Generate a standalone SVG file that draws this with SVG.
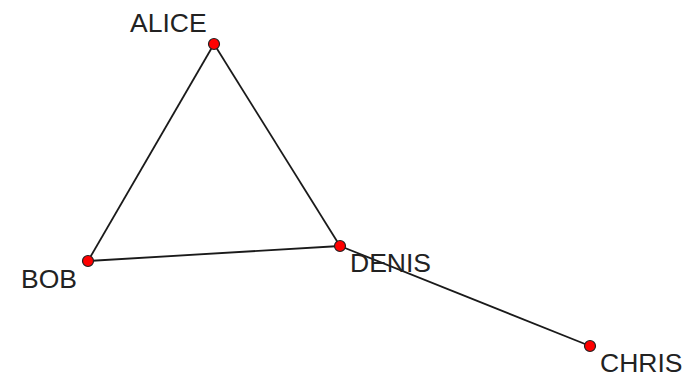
<svg xmlns="http://www.w3.org/2000/svg" width="699" height="377" viewBox="0 0 699 377">
<style>
.edge{stroke:#1a1a1a;stroke-width:1.8;fill:none}
.dot{fill:#ff0000;stroke:#222222;stroke-width:1.2}
.lbl{font-family:"Liberation Sans",Arial,sans-serif;font-size:26.5px;fill:#222222}
</style>
<rect width="699" height="377" fill="#ffffff"/>
<g id="edges">
<line class="edge" x1="214" y1="44" x2="88" y2="261"/>
<line class="edge" x1="214" y1="44" x2="340" y2="246"/>
<line class="edge" x1="88" y1="261" x2="340" y2="246"/>
<line class="edge" x1="340" y1="246" x2="590" y2="346"/>
</g>
<g id="alice"><circle class="dot" cx="214" cy="44" r="5.5"/><text class="lbl" x="130" y="32">ALICE</text></g>
<g id="bob"><circle class="dot" cx="88" cy="261" r="5.5"/><text class="lbl" x="21" y="288">BOB</text></g>
<g id="denis"><circle class="dot" cx="340" cy="246" r="5.5"/><text class="lbl" x="350" y="272">DENIS</text></g>
<g id="chris"><circle class="dot" cx="590" cy="346" r="5.5"/><text class="lbl" x="600" y="372">CHRIS</text></g>
</svg>
